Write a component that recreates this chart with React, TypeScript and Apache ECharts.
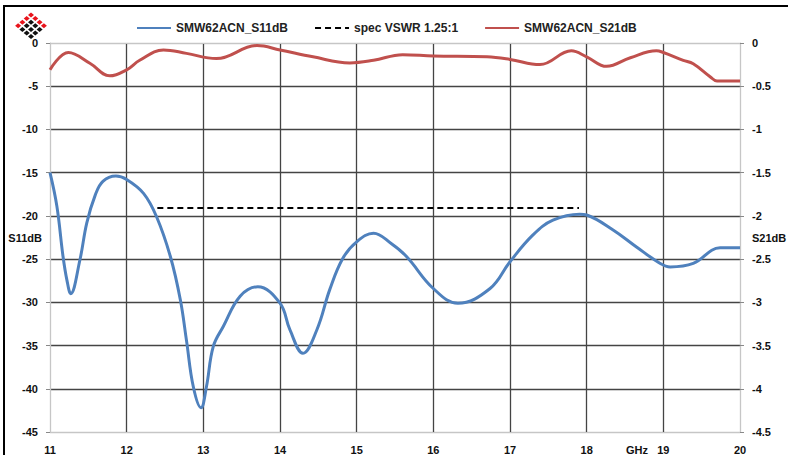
import React, { useEffect, useRef } from "react";
import * as echarts from "echarts";

const xTicks = [11, 12, 13, 14, 15, 16, 17, 18, 19, 20];

const s11Freq = [11.0, 11.09, 11.17, 11.22, 11.27, 11.39, 11.48, 11.59, 11.69, 11.86, 12.0, 12.22, 12.39, 12.57, 12.7, 12.78, 12.87, 12.97, 13.04, 13.13, 13.26, 13.48, 13.71, 14.0, 14.13, 14.3, 14.48, 14.65, 14.82, 15.0, 15.22, 15.45, 15.65, 16.0, 16.32, 16.74, 17.0, 17.3, 17.56, 17.91, 18.0, 18.34, 18.65, 18.96, 19.09, 19.39, 19.74, 20.0];
const s11Values = [-15.0, -18.9, -24.7, -27.4, -29.0, -25.1, -20.8, -17.6, -16.0, -15.4, -15.8, -17.4, -20.1, -24.7, -29.7, -34.4, -39.8, -42.2, -39.8, -35.1, -32.8, -29.3, -28.2, -30.1, -33.2, -35.9, -33.2, -28.5, -24.9, -23.0, -22.0, -23.2, -24.7, -28.4, -30.1, -28.4, -25.3, -22.2, -20.5, -19.8, -19.9, -21.6, -23.6, -25.5, -25.9, -25.5, -23.7, -23.7];

const s21Freq = [11.0, 11.24, 11.52, 11.78, 12.0, 12.17, 12.48, 12.78, 13.17, 13.7, 14.0, 14.43, 14.91, 15.22, 15.6, 16.0, 16.7, 17.0, 17.39, 17.8, 18.0, 18.26, 18.57, 18.91, 19.0, 19.26, 19.39, 19.61, 19.7, 20.0];
const s21Values = [-0.31, -0.11, -0.235, -0.38, -0.31, -0.2, -0.08, -0.12, -0.18, -0.03, -0.08, -0.16, -0.23, -0.2, -0.135, -0.15, -0.16, -0.19, -0.25, -0.09, -0.16, -0.27, -0.17, -0.09, -0.11, -0.2, -0.24, -0.39, -0.44, -0.44];

const specFreq = [12.4, 17.9];
const specValues = [-19.08, -19.08];

const seriesNames = ["SMW62ACN_S11dB", "spec VSWR 1.25:1", "SMW62ACN_S21dB"];

const FONT = "'Liberation Sans', Arial, sans-serif";

function zip(a: number[], b: number[]) {
  return a.map((v, i) => [v, b[i]]);
}

function logoShapes() {
  const out: any[] = [];
  const cx = 31;
  const cy = 15;
  const dx = 4.3;
  const dy = 3.6;
  const r = 2.5;
  for (let i = 0; i < 4; i++) {
    for (let j = 0; j < 4; j++) {
      const x = cx + (i - j) * dx;
      const y = cy + (i + j) * dy;
      const red = i === 0 || j === 0;
      out.push({
        type: "polygon",
        shape: { points: [[x, y - r], [x + r * 1.2, y], [x, y + r], [x - r * 1.2, y]] },
        style: { fill: red ? "#e8141c" : "#111111" },
      });
    }
  }
  return out;
}

export default function App() {
  const ref = useRef<HTMLDivElement>(null);
  useEffect(() => {
    if (!ref.current) return;
    const chart = echarts.init(ref.current, null, { renderer: "svg" });
    const light = "#c6c6c6";
    const dark = "#444444";
    const xSplitColors = xTicks.map((_, i) => (i === 0 || i === xTicks.length - 1 ? light : dark));
    const ySplitColors = Array.from({ length: 10 }, (_, i) => (i === 0 || i === 9 ? light : dark));
    const labelStyle = { color: "#111", fontFamily: FONT, fontWeight: "bold" as const, fontSize: 11 };
    chart.setOption({
      animation: false,
      backgroundColor: "#ffffff",
      grid: { left: 50, right: 48, top: 43, bottom: 23, containLabel: false },
      legend: {
        data: seriesNames,
        left: 131,
        top: 17,
        itemWidth: 34,
        itemHeight: 12,
        itemGap: 26,
        itemStyle: { opacity: 0, borderWidth: 0 },
        textStyle: { color: "#222", fontFamily: FONT, fontWeight: "bold", fontSize: 12 },
      },
      xAxis: {
        type: "value",
        min: 11,
        max: 20,
        interval: 1,
        axisLine: { show: true, lineStyle: { color: light, width: 1 } },
        axisTick: { show: false },
        axisLabel: { ...labelStyle, margin: 12 },
        splitLine: { show: true, lineStyle: { color: xSplitColors, width: 1.3 } },
      },
      yAxis: [
        {
          type: "value",
          min: -45,
          max: 0,
          interval: 5,
          position: "left",
          axisLine: { show: true, lineStyle: { color: light, width: 1 } },
          axisTick: { show: true, inside: false, length: 4, lineStyle: { color: "#888" } },
          axisLabel: { ...labelStyle, margin: 12 },
          splitLine: { show: true, lineStyle: { color: ySplitColors, width: 1.3 } },
        },
        {
          type: "value",
          min: -4.5,
          max: 0,
          interval: 0.5,
          position: "right",
          axisLine: { show: true, lineStyle: { color: light, width: 1 } },
          axisTick: { show: true, inside: false, length: 4, lineStyle: { color: "#888" } },
          axisLabel: { ...labelStyle, margin: 12 },
          splitLine: { show: false },
        },
      ],
      series: [
        {
          name: seriesNames[0],
          type: "line",
          yAxisIndex: 0,
          data: zip(s11Freq, s11Values),
          smooth: 0.4,
          symbol: "none",
          lineStyle: { color: "#4f81bd", width: 3 },
          itemStyle: { color: "#4f81bd" },
          z: 4,
        },
        {
          name: seriesNames[1],
          type: "line",
          yAxisIndex: 0,
          data: zip(specFreq, specValues),
          symbol: "none",
          lineStyle: { color: "#000000", width: 2, type: [6, 4] },
          itemStyle: { color: "#000000" },
          z: 3,
        },
        {
          name: seriesNames[2],
          type: "line",
          yAxisIndex: 1,
          data: zip(s21Freq, s21Values),
          smooth: 0.4,
          symbol: "none",
          lineStyle: { color: "#c0504d", width: 3 },
          itemStyle: { color: "#c0504d" },
          z: 4,
        },
      ],
      graphic: [
        { type: "rect", shape: { x: 3, y: 5, width: 800, height: 2 }, style: { fill: "#000" }, silent: true },
        { type: "rect", shape: { x: 3, y: 5, width: 2, height: 460 }, style: { fill: "#000" }, silent: true },
        ...logoShapes(),
        {
          type: "text",
          x: 42,
          y: 238,
          style: { text: "S11dB", fill: "#111", font: `bold 11px ${FONT}`, align: "right", verticalAlign: "middle" },
        },
        {
          type: "text",
          x: 752,
          y: 238,
          style: { text: "S21dB", fill: "#111", font: `bold 11px ${FONT}`, align: "left", verticalAlign: "middle" },
        },
        {
          type: "text",
          x: 648,
          y: 450,
          style: { text: "GHz", fill: "#111", font: `bold 11px ${FONT}`, align: "right", verticalAlign: "middle" },
        },
      ],
    });
    return () => chart.dispose();
  }, []);
  return <div ref={ref} style={{ width: 788, height: 455, position: "absolute", left: 0, top: 0 }} />;
}
